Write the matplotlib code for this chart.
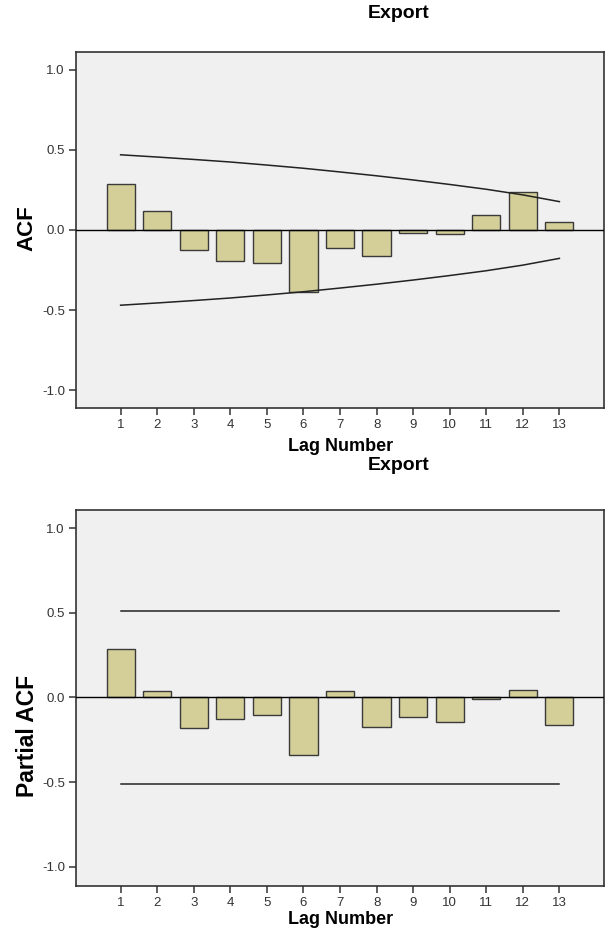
import matplotlib
matplotlib.use("Agg")
import matplotlib.pyplot as plt
import numpy as np

# values
lags = list(range(1, 14))
acf = [0.286, 0.116, -0.122, -0.193, -0.205, -0.384, -0.114,
       -0.162, -0.021, -0.025, 0.096, 0.236, 0.050]
acf_upper = [0.469, 0.455, 0.440, 0.424, 0.405, 0.385, 0.362,
             0.338, 0.312, 0.284, 0.254, 0.219, 0.177]
acf_lower = [-v for v in acf_upper]

pacf = [0.284, 0.039, -0.183, -0.130, -0.101, -0.341, 0.039,
        -0.175, -0.116, -0.144, -0.010, 0.043, -0.160]
pacf_upper = [0.512] * len(lags)
pacf_lower = [-0.512] * len(lags)

ytick_vals = [-1.0, -0.5, 0.0, 0.5, 1.0]
ytick_labels = ["-1.0", "-0.5", "0.0", "0.5", "1.0"]

series_name = "Export"

plt.rcParams["font.family"] = ["Liberation Sans", "DejaVu Sans"]

bar_color = "#d4cf98"
edge_color = "#3a3a3a"
bg_color = "#f0f0f0"

fig = plt.figure(figsize=(6.08, 9.35), dpi=100)
fig.patch.set_facecolor("white")

W, H = 608.0, 935.0

def px_axes(left, top, right, bottom):
  return [left / W, 1 - bottom / H, (right - left) / W, (bottom - top) / H]

ax1 = fig.add_axes(px_axes(76, 52, 604, 408))
ax2 = fig.add_axes(px_axes(76, 510, 604, 886))

def style(ax, values, upper, lower, ylim):
  ax.set_facecolor(bg_color)
  ax.bar(lags, values, width=0.77, color=bar_color, edgecolor=edge_color,
         linewidth=1.0, zorder=2)
  ax.axhline(0, color="black", linewidth=1.0, zorder=3)
  ax.plot(lags, upper, color="#222222", linewidth=1.1, zorder=4)
  ax.plot(lags, lower, color="#222222", linewidth=1.1, zorder=4)
  ax.set_xlim(-0.22, 14.22)
  ax.set_ylim(*ylim)
  ax.set_xticks(lags)
  ax.set_xticklabels([str(l) for l in lags])
  ax.set_yticks(ytick_vals)
  ax.set_yticklabels(ytick_labels)
  ax.tick_params(axis="both", direction="out", length=5, width=1.1,
                 color="#333333", labelcolor="#333333", labelsize=9.5, pad=3)
  for sp in ax.spines.values():
    sp.set_color("#333333")
    sp.set_linewidth(1.2)

style(ax1, acf, acf_upper, acf_lower, (-1.11, 1.11))
style(ax2, pacf, pacf_upper, pacf_lower, (-1.115, 1.109))

# titles and labels placed like the SPSS output
fig.text(399 / W, 1 - 13 / H, series_name, ha="center", va="center",
         fontsize=14, fontweight="bold")
fig.text(341 / W, 1 - 447 / H, "Lag Number", ha="center", va="center",
         fontsize=13, fontweight="bold")
fig.text(399 / W, 1 - 465 / H, series_name, ha="center", va="center",
         fontsize=14, fontweight="bold")
fig.text(341 / W, 1 - 920 / H, "Lag Number", ha="center", va="center",
         fontsize=13, fontweight="bold")
fig.text(27 / W, 1 - 228 / H, "ACF", ha="center", va="center",
         rotation=90, fontsize=16, fontweight="bold")
fig.text(27 / W, 1 - 736 / H, "Partial ACF", ha="center", va="center",
         rotation=90, fontsize=16.5, fontweight="bold")

plt.savefig("out.png", dpi=100)
